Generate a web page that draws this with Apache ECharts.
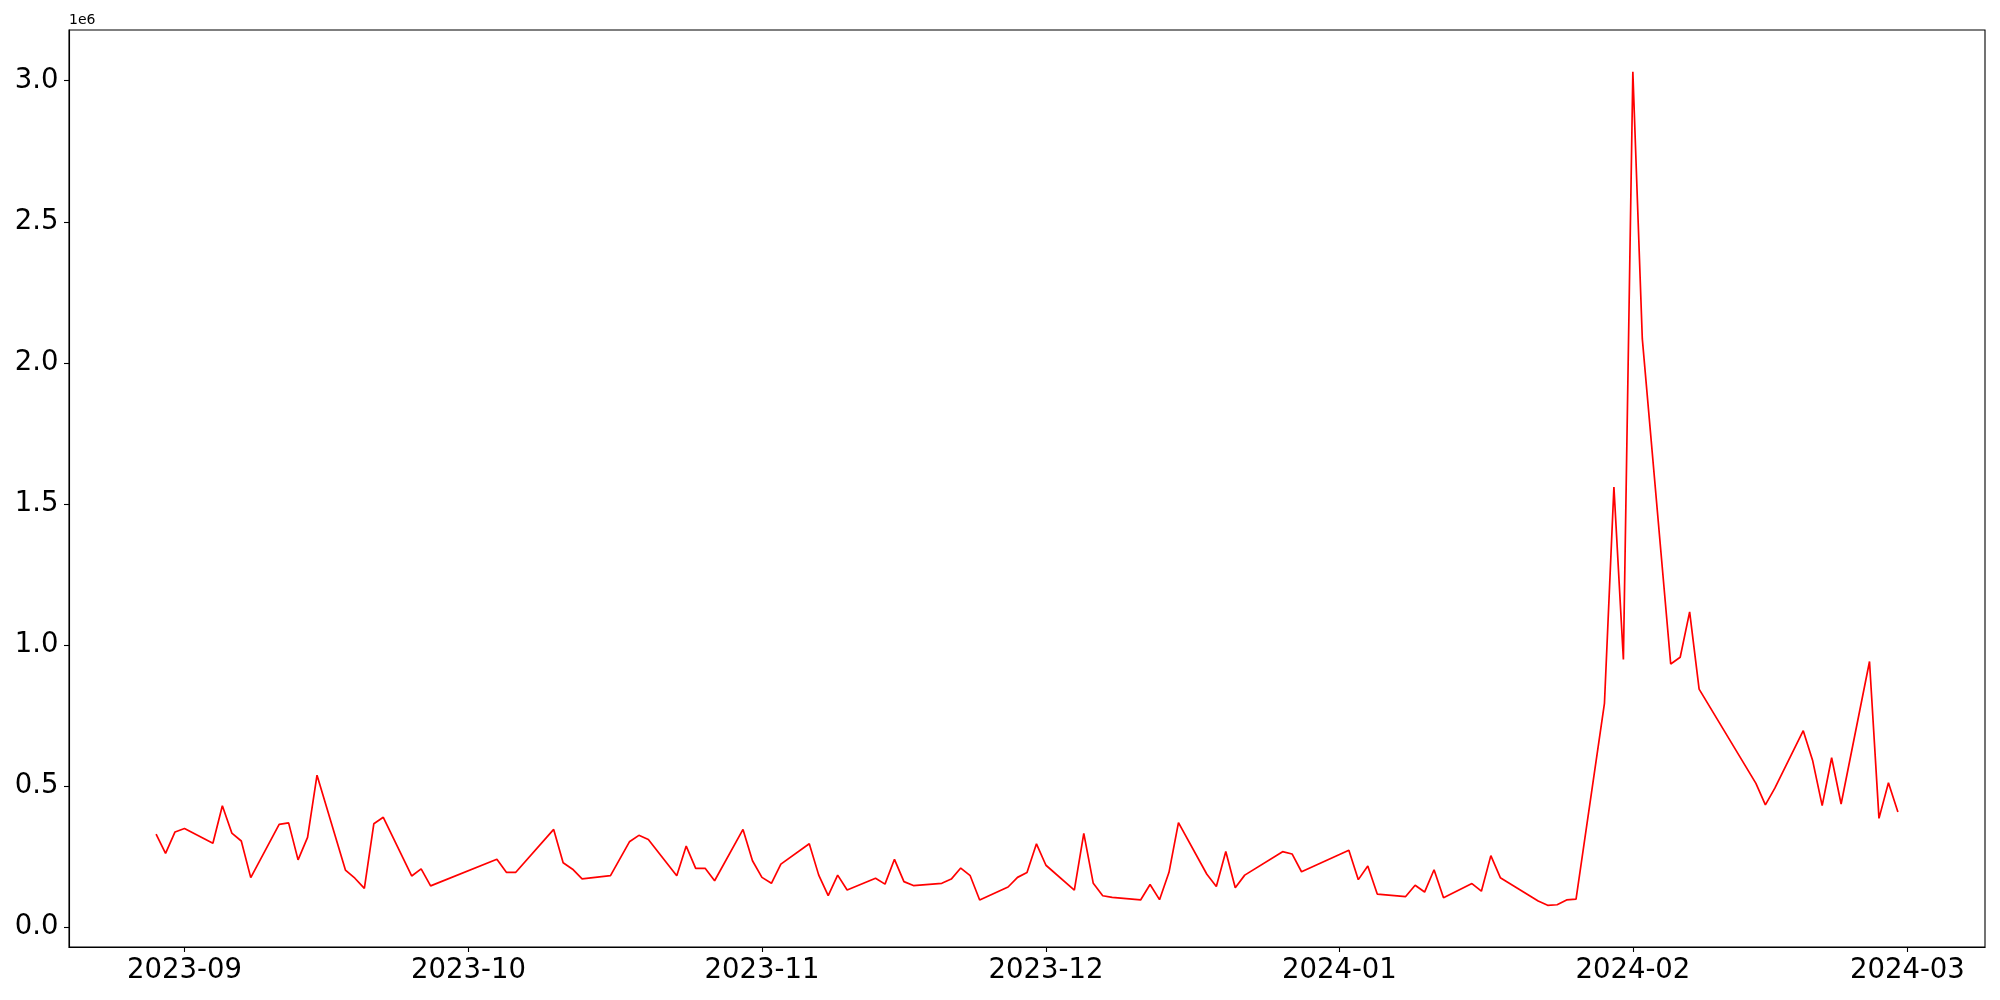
<!DOCTYPE html>
<html>
<head>
<meta charset="utf-8">
<script src="https://cdn.jsdelivr.net/npm/echarts@6/dist/echarts.min.js"></script>
<style>
html,body{margin:0;padding:0;background:#fff;}
#chart{width:2000px;height:1000px;}
</style>
</head>
<body>
<div id="chart"></div>
<script>
// ---- data ----
const dates = [
'2023-08-29','2023-08-30','2023-08-31','2023-09-01','2023-09-04','2023-09-05','2023-09-06','2023-09-07','2023-09-08',
'2023-09-11','2023-09-12','2023-09-13','2023-09-14','2023-09-15','2023-09-18','2023-09-19','2023-09-20','2023-09-21','2023-09-22',
'2023-09-25','2023-09-26','2023-09-27','2023-10-04','2023-10-05','2023-10-06','2023-10-10','2023-10-11','2023-10-12','2023-10-13',
'2023-10-16','2023-10-18','2023-10-19','2023-10-20','2023-10-23','2023-10-24','2023-10-25','2023-10-26','2023-10-27',
'2023-10-30','2023-10-31','2023-11-01','2023-11-02','2023-11-03','2023-11-06','2023-11-07','2023-11-08','2023-11-09','2023-11-10',
'2023-11-13','2023-11-14','2023-11-15','2023-11-16','2023-11-17','2023-11-20','2023-11-21','2023-11-22','2023-11-23','2023-11-24',
'2023-11-27','2023-11-28','2023-11-29','2023-11-30','2023-12-01','2023-12-04','2023-12-05','2023-12-06','2023-12-07','2023-12-08',
'2023-12-11','2023-12-12','2023-12-13','2023-12-14','2023-12-15','2023-12-18','2023-12-19','2023-12-20','2023-12-21','2023-12-22',
'2023-12-26','2023-12-27','2023-12-28','2024-01-02','2024-01-03','2024-01-04','2024-01-05','2024-01-08','2024-01-09','2024-01-10',
'2024-01-11','2024-01-12','2024-01-15','2024-01-16','2024-01-17','2024-01-18','2024-01-22','2024-01-23','2024-01-24','2024-01-25',
'2024-01-26','2024-01-29','2024-01-30','2024-01-31','2024-02-01','2024-02-02','2024-02-05','2024-02-06','2024-02-07','2024-02-08',
'2024-02-14','2024-02-15','2024-02-16','2024-02-19','2024-02-20','2024-02-21','2024-02-22','2024-02-23','2024-02-26','2024-02-27',
'2024-02-28','2024-02-29'
];
const values = [
330000,262000,338000,350000,298000,431000,334000,306000,176000,
365000,370000,239000,319000,539000,203000,174000,138000,367000,390000,
182000,207000,147000,241000,195000,195000,347000,229000,206000,172000,
183000,303000,326000,311000,183000,288000,209000,209000,165000,
347000,236000,177000,156000,224000,296000,185000,112000,185000,132000,
174000,153000,241000,162000,148000,156000,171000,210000,183000,97000,
143000,177000,194000,296000,220000,132000,333000,156000,112000,106000,
97000,152000,98000,195000,371000,188000,145000,269000,140000,185000,
268000,260000,197000,273000,169000,217000,118000,109000,149000,125000,
204000,105000,155000,128000,254000,176000,93000,78000,80000,97000,
100000,794000,1560000,949000,3032000,2085000,933000,957000,1118000,844000,
510000,434000,493000,697000,590000,431000,601000,437000,942000,386000,
512000,409000
];
const xTickLabels = ['2023-09','2023-10','2023-11','2023-12','2024-01','2024-02','2024-03'];
const yTicks = [0, 500000, 1000000, 1500000, 2000000, 2500000, 3000000];
const yOffsetText = '1e6';

// ---- build ----
function parseDay(s){ const p = s.split('-').map(Number); return Date.UTC(p[0], p[1]-1, p[2] || 1); }
const xs = dates.map(parseDay);
const span = xs[xs.length-1] - xs[0];
const xMin = xs[0] - span*0.05, xMax = xs[xs.length-1] + span*0.05;
const vmin = Math.min(...values), vmax = Math.max(...values);
const yMin = vmin - (vmax-vmin)*0.05, yMax = vmax + (vmax-vmin)*0.05;
const xTickVals = xTickLabels.map(parseDay);
const xLabelMap = {};
xTickVals.forEach((v,i)=>{ xLabelMap[v] = xTickLabels[i]; });

const font = 'DejaVu Sans';
const chart = echarts.init(document.getElementById('chart'), null, {renderer:'canvas'});
chart.setOption({
  animation: false,
  backgroundColor: '#fff',
  grid: { left: 69, right: 15, top: 30, bottom: 53, show: true, borderColor: '#000', borderWidth: 1.1, backgroundColor: 'transparent' },
  xAxis: {
    type: 'value', min: xMin, max: xMax,
    splitLine: {show:false},
    axisLine: {show:true, onZero:false, lineStyle:{color:'#000', width:1.1}},
    axisTick: {show:true, length:5, lineStyle:{color:'#000', width:1.1}, customValues: xTickVals},
    axisLabel: {
      customValues: xTickVals, color:'#000', fontSize: 27.5, fontFamily: font, margin: 10,
      formatter: function(v){ return xLabelMap[v] !== undefined ? xLabelMap[v] : ''; }
    }
  },
  yAxis: {
    type: 'value', min: yMin, max: yMax,
    splitLine: {show:false},
    axisLine: {show:true, onZero:false, lineStyle:{color:'#000', width:1.1}},
    axisTick: {show:true, length:5, lineStyle:{color:'#000', width:1.1}, customValues: yTicks},
    axisLabel: {
      customValues: yTicks, color:'#000', fontSize: 27.5, fontFamily: font, margin: 10.5,
      formatter: function(v){ return (v/1e6).toFixed(1); }
    }
  },
  graphic: [{ type:'text', left: 69, top: 13, style:{ text: yOffsetText, fontSize: 14, fontFamily: font, fill:'#000' } }],
  series: [{
    type: 'line', data: xs.map((x,i)=>[x, values[i]]),
    showSymbol: false, symbol: 'none',
    lineStyle: {color:'#ff0000', width: 1.7},
    itemStyle: {color:'#ff0000'}
  }]
});
</script>
</body>
</html>
